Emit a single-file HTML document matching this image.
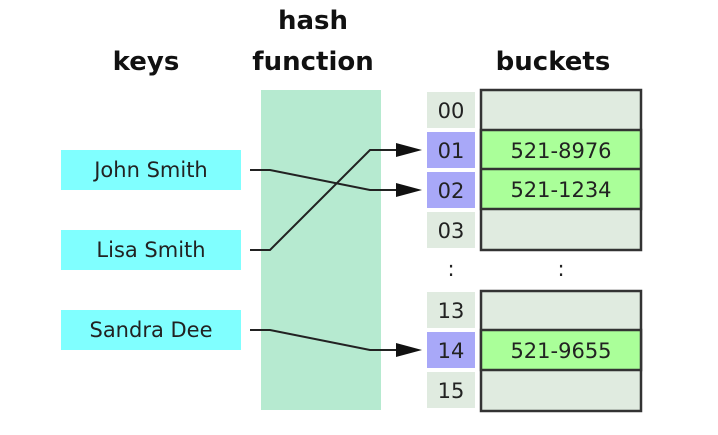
<!DOCTYPE html>
<html><head><style>body{margin:0;background:#fff}</style></head><body>
<svg width="718" height="430" xmlns="http://www.w3.org/2000/svg" font-family="DejaVu Sans, sans-serif">
<rect width="718" height="430" fill="#fff"/>
<g font-weight="bold" font-size="26" fill="#111" text-anchor="middle">
<text x="146" y="70">keys</text>
<text x="313" y="29">hash</text>
<text x="313" y="70">function</text>
<text x="553" y="70">buckets</text>
</g>
<rect x="261" y="90" width="120" height="320" fill="#b6ead0"/>
<g fill="#80ffff">
<rect x="61" y="150" width="180" height="40"/>
<rect x="61" y="230" width="180" height="40"/>
<rect x="61" y="310" width="180" height="40"/>
</g>
<g font-size="21" fill="#222" text-anchor="middle">
<text x="151" y="177">John Smith</text>
<text x="151" y="257">Lisa Smith</text>
<text x="151" y="337">Sandra Dee</text>
</g>
<g>
<rect x="427" y="92" width="48" height="36" fill="#e0ebe0"/>
<rect x="427" y="132" width="48" height="36" fill="#a8a8f8"/>
<rect x="427" y="172" width="48" height="36" fill="#a8a8f8"/>
<rect x="427" y="212" width="48" height="36" fill="#e0ebe0"/>
<rect x="427" y="292" width="48" height="36" fill="#e0ebe0"/>
<rect x="427" y="332" width="48" height="36" fill="#a8a8f8"/>
<rect x="427" y="372" width="48" height="36" fill="#e0ebe0"/>
</g>
<g font-size="21" fill="#222" text-anchor="middle">
<text x="451" y="118">00</text>
<text x="451" y="158">01</text>
<text x="451" y="198">02</text>
<text x="451" y="238">03</text>
<text x="451" y="318">13</text>
<text x="451" y="358">14</text>
<text x="451" y="398">15</text>
<text x="451" y="276">:</text>
<text x="561" y="276">:</text>
</g>
<g stroke="#333" stroke-width="2.5">
<rect x="481" y="90" width="160" height="160" fill="#e0ebe0"/>
<rect x="481" y="130" width="160" height="79" fill="#aaff99"/>
<line x1="481" y1="169" x2="641" y2="169"/>
<rect x="481" y="291" width="160" height="120" fill="#e0ebe0"/>
<rect x="481" y="330" width="160" height="40" fill="#aaff99"/>
</g>
<g font-size="21" fill="#222" text-anchor="middle">
<text x="561" y="158">521-8976</text>
<text x="561" y="197">521-1234</text>
<text x="561" y="358">521-9655</text>
</g>
<g fill="none" stroke="#222" stroke-width="2">
<polyline points="250,170 270,170 370,190 400,190"/>
<polyline points="250,250 270,250 370,150 400,150"/>
<polyline points="250,330 270,330 370,350 400,350"/>
</g>
<g fill="#111">
<polygon points="396,143 422,150 396,157"/>
<polygon points="396,183 422,190 396,197"/>
<polygon points="396,343 422,350 396,357"/>
</g>
</svg>
</body></html>
